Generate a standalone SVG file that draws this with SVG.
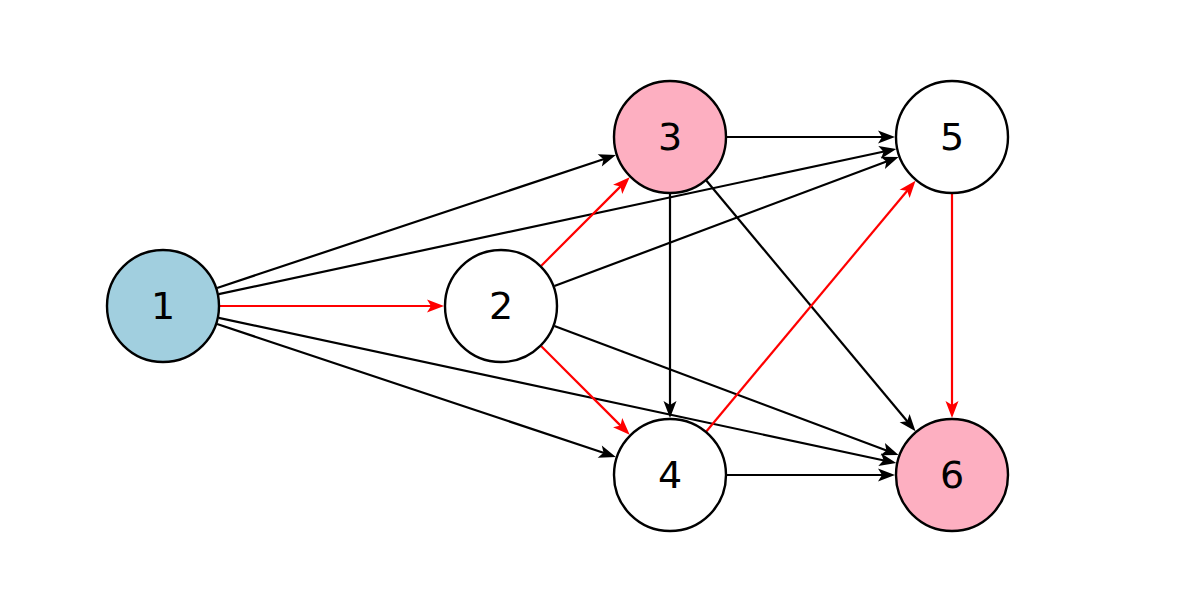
<svg xmlns="http://www.w3.org/2000/svg" width="1184" height="606" viewBox="0 0 1184 606">
<style>
.e{stroke-width:2.2;fill:none}
.k{stroke:#000;marker-end:url(#ak)}
.r{stroke:#ff0000;marker-end:url(#ar)}
.n{stroke:#000;stroke-width:2.4}
.t{font-family:"DejaVu Sans",sans-serif;font-size:38px;text-anchor:middle;dominant-baseline:central;fill:#000}
</style>
<defs>
<marker id="ak" markerUnits="userSpaceOnUse" orient="auto" refX="0" refY="0" markerWidth="20" markerHeight="20" overflow="visible"><path d="M10,0 L-7,-6.5 L-3,0 L-7,6.5 Z" fill="#000"/></marker>
<marker id="ar" markerUnits="userSpaceOnUse" orient="auto" refX="0" refY="0" markerWidth="20" markerHeight="20" overflow="visible"><path d="M10,0 L-7,-6.5 L-3,0 L-7,6.5 Z" fill="#ff0000"/></marker>
</defs>
<rect width="1184" height="606" fill="#fff"/>
<g id="edges">
<line class="e k" x1="217.1" y1="288" x2="606.4" y2="158.2"/>
<line class="e k" x1="218.7" y1="294.1" x2="886.5" y2="151"/>
<line class="e k" x1="217.1" y1="324" x2="606.4" y2="453.8"/>
<line class="e k" x1="218.7" y1="317.9" x2="886.5" y2="461"/>
<line class="e r" x1="220" y1="306" x2="434" y2="306"/>
<line class="e r" x1="541.3" y1="265.7" x2="622.6" y2="184.4"/>
<line class="e r" x1="541.3" y1="346.3" x2="622.6" y2="427.6"/>
<line class="e k" x1="554.4" y1="286" x2="889.2" y2="160.5"/>
<line class="e k" x1="554.4" y1="326" x2="889.2" y2="451.5"/>
<line class="e k" x1="727" y1="137" x2="885" y2="137"/>
<line class="e k" x1="670" y1="194" x2="670" y2="408"/>
<line class="e k" x1="706.5" y1="180.8" x2="909.1" y2="423.5"/>
<line class="e r" x1="706.5" y1="431.2" x2="909.1" y2="188.5"/>
<line class="e k" x1="727" y1="475" x2="885" y2="475"/>
<line class="e r" x1="952" y1="194" x2="952" y2="408"/>
</g>
<g id="node1"><circle class="n" cx="163" cy="306" r="56" fill="#a1cfdf"/><text class="t" x="163" y="306">1</text></g>
<g id="node2"><circle class="n" cx="501" cy="306" r="56" fill="#fff"/><text class="t" x="501" y="306">2</text></g>
<g id="node3"><circle class="n" cx="670" cy="137" r="56" fill="#fdafc1"/><text class="t" x="670" y="137">3</text></g>
<g id="node4"><circle class="n" cx="670" cy="475" r="56" fill="#fff"/><text class="t" x="670" y="475">4</text></g>
<g id="node5"><circle class="n" cx="952" cy="137" r="56" fill="#fff"/><text class="t" x="952" y="137">5</text></g>
<g id="node6"><circle class="n" cx="952" cy="475" r="56" fill="#fdafc1"/><text class="t" x="952" y="475">6</text></g>
</svg>
